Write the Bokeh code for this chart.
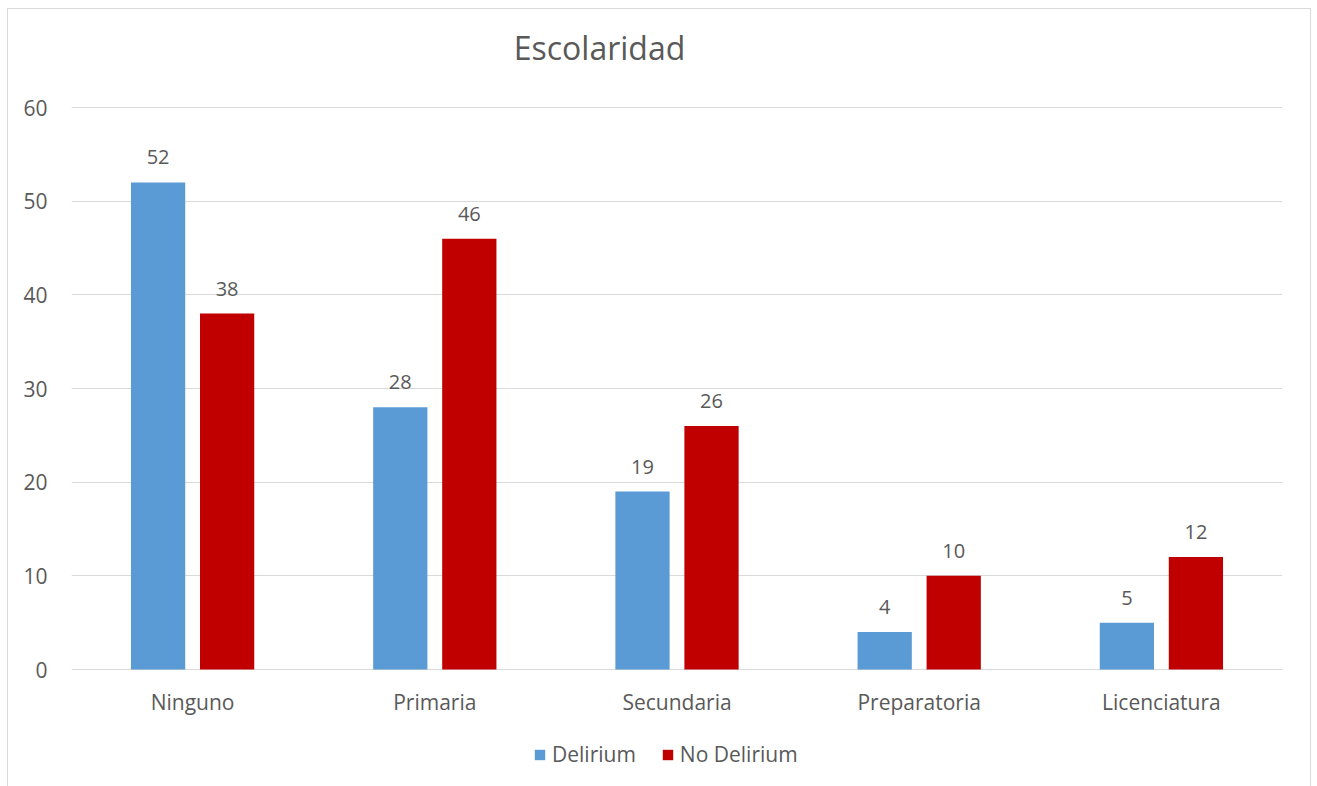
from bokeh.plotting import figure
from bokeh.models import (ColumnDataSource, FactorRange, Range1d, FixedTicker, Legend,
                          LegendItem, Label)
from bokeh.core.properties import value
from bokeh.transform import dodge
from bokeh.embed import file_html
from bokeh.resources import INLINE

categories = ["Ninguno", "Primaria", "Secundaria", "Preparatoria", "Licenciatura"]
delirium = [52, 28, 19, 4, 5]
no_delirium = [38, 46, 26, 10, 12]
series_names = ["Delirium", "No Delirium"]
y_ticks = [0, 10, 20, 30, 40, 50, 60]
chart_title = "Escolaridad"

FONT = "Open Sans"
TXT = "#595959"
BLUE = "#5B9BD5"
RED = "#C00000"
GRID = "#D9D9D9"

# layout (pixels): value axis 0..60 spans 562 px; frame spans whole canvas height
PLOT_H = 562
FRAME_H = 777
PX = PLOT_H / 60.0
ZERO_FROM_TOP = 660  # pixel row of 0 measured from frame top
y_end = ZERO_FROM_TOP / PX
y_start = -(FRAME_H - ZERO_FROM_TOP) / PX

src = ColumnDataSource(dict(
    cat=categories,
    d=delirium,
    nd=no_delirium,
    dl=[str(v) for v in delirium],
    ndl=[str(v) for v in no_delirium],
    zero=[0] * len(categories),
))

p = figure(
    x_range=FactorRange(*categories, range_padding=0),
    y_range=Range1d(y_start, y_end),
    frame_width=1211, frame_height=FRAME_H,
    output_backend="svg", toolbar_location=None,
    min_border_left=63, min_border_right=28, min_border_top=0, min_border_bottom=0,
)
p.margin = (8, 0, 0, 7)
p.styles = {"border-top": "1px solid #D9D9D9", "border-left": "1px solid #D9D9D9",
            "border-right": "1px solid #D9D9D9"}
p.outline_line_color = None
p.background_fill_color = "white"
p.border_fill_color = "white"

bw = 0.224
off = 0.1425
r1 = p.vbar(x=dodge("cat", -off, range=p.x_range), top="d", width=bw, source=src,
            fill_color=BLUE, line_color=None)
r2 = p.vbar(x=dodge("cat", off, range=p.x_range), top="nd", width=bw, source=src,
            fill_color=RED, line_color=None)

p.text(x=dodge("cat", -off, range=p.x_range), y="d", text="dl", source=src,
       text_align="center", text_baseline="middle", y_offset=-25,
       text_font=value(FONT), text_font_size=value("20px"), text_color=TXT)
p.text(x=dodge("cat", off, range=p.x_range), y="nd", text="ndl", source=src,
       text_align="center", text_baseline="middle", y_offset=-25,
       text_font=value(FONT), text_font_size=value("20px"), text_color=TXT)

# category labels under the baseline
p.text(x="cat", y="zero", text="cat", source=src,
       text_align="center", text_baseline="middle", y_offset=32,
       text_font=value(FONT), text_font_size=value("21px"), text_color=TXT)

# title
p.add_layout(Label(x=2.18, y=(ZERO_FROM_TOP - 38) / PX, text=chart_title,
                   text_align="center", text_baseline="middle",
                   text_font=FONT, text_font_size="32px", text_color=TXT))

p.yaxis.ticker = FixedTicker(ticks=y_ticks)
p.yaxis.axis_line_color = None
p.yaxis.major_tick_line_color = None
p.yaxis.minor_tick_line_color = None
p.yaxis.major_label_standoff = 18
p.yaxis.major_label_text_font = FONT
p.yaxis.major_label_text_font_size = "21px"
p.yaxis.major_label_text_color = TXT

p.xaxis.visible = False
p.xgrid.grid_line_color = None
p.ygrid.grid_line_color = GRID
p.ygrid.grid_line_width = 1

legend = Legend(items=[LegendItem(label=series_names[0], renderers=[r1]),
                       LegendItem(label=series_names[1], renderers=[r2])],
                orientation="horizontal", location=(462, 18),
                glyph_width=13, glyph_height=13, label_standoff=6, spacing=25,
                padding=0, margin=0, border_line_color=None,
                label_text_font=FONT, label_text_font_size="21px",
                label_text_color=TXT, background_fill_alpha=0)
p.add_layout(legend, "center")

open("out.html", "w").write(file_html(p, INLINE))
